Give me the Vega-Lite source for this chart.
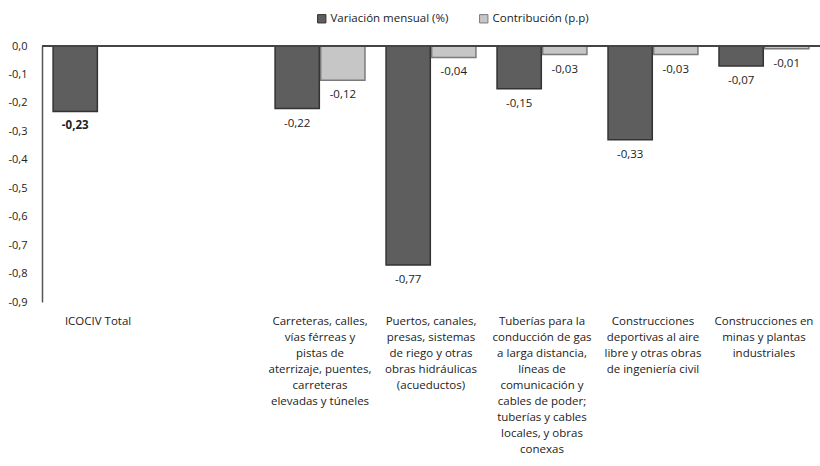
{
  "$schema": "https://vega.github.io/schema/vega-lite/v6.json",
  "autosize": {"type": "none"},
  "padding": {"left": 42, "top": 46, "right": 0, "bottom": 164},
  "width": 778,
  "height": 256,
  "background": "white",
  "config": {
    "font": "Open Sans",
    "view": {"stroke": null},
    "locale": {"number": {"decimal": ",", "thousands": ".", "grouping": [3], "currency": ["$", ""], "minus": "-"}}
  },
  "data": {"values": [
    {"categoria": "ICOCIV Total", "serie": "Variación mensual (%)", "valor": -0.23},
    {"categoria": "Carreteras, calles,|vías férreas y|pistas de|aterrizaje, puentes,|carreteras|elevadas y túneles", "serie": "Variación mensual (%)", "valor": -0.22},
    {"categoria": "Carreteras, calles,|vías férreas y|pistas de|aterrizaje, puentes,|carreteras|elevadas y túneles", "serie": "Contribución (p.p)", "valor": -0.12},
    {"categoria": "Puertos, canales,|presas, sistemas|de riego y otras|obras hidráulicas|(acueductos)", "serie": "Variación mensual (%)", "valor": -0.77},
    {"categoria": "Puertos, canales,|presas, sistemas|de riego y otras|obras hidráulicas|(acueductos)", "serie": "Contribución (p.p)", "valor": -0.04},
    {"categoria": "Tuberías para la|conducción de gas|a larga distancia,|líneas de|comunicación y|cables de poder;|tuberías y cables|locales, y obras|conexas", "serie": "Variación mensual (%)", "valor": -0.15},
    {"categoria": "Tuberías para la|conducción de gas|a larga distancia,|líneas de|comunicación y|cables de poder;|tuberías y cables|locales, y obras|conexas", "serie": "Contribución (p.p)", "valor": -0.03},
    {"categoria": "Construcciones|deportivas al aire|libre y otras obras|de ingeniería civil", "serie": "Variación mensual (%)", "valor": -0.33},
    {"categoria": "Construcciones|deportivas al aire|libre y otras obras|de ingeniería civil", "serie": "Contribución (p.p)", "valor": -0.03},
    {"categoria": "Construcciones  en|minas y plantas|industriales", "serie": "Variación mensual (%)", "valor": -0.07},
    {"categoria": "Construcciones  en|minas y plantas|industriales", "serie": "Contribución (p.p)", "valor": -0.01}
  ]},
  "encoding": {
    "x": {
      "field": "categoria", "type": "nominal",
      "scale": {
        "domain": ["ICOCIV Total", " ",
          "Carreteras, calles,|vías férreas y|pistas de|aterrizaje, puentes,|carreteras|elevadas y túneles",
          "Puertos, canales,|presas, sistemas|de riego y otras|obras hidráulicas|(acueductos)",
          "Tuberías para la|conducción de gas|a larga distancia,|líneas de|comunicación y|cables de poder;|tuberías y cables|locales, y obras|conexas",
          "Construcciones|deportivas al aire|libre y otras obras|de ingeniería civil",
          "Construcciones  en|minas y plantas|industriales"],
        "paddingInner": 0.19, "paddingOuter": 0.1
      },
      "axis": {
        "title": null, "domain": false, "ticks": false, "tickSize": 0,
        "labelAngle": 0, "labelLimit": 0, "labelPadding": 13,
        "labelExpr": "split(datum.value, '|')",
        "labelLineHeight": 16, "labelFontSize": 11.5, "labelColor": "#222",
        "labelOverlap": false
      }
    },
    "xOffset": {"field": "serie", "type": "nominal", "sort": ["Variación mensual (%)", "Contribución (p.p)"], "scale": {"paddingInner": 0.03}},
    "y": {
      "field": "valor", "type": "quantitative",
      "scale": {"domain": [-0.9, 0], "nice": false},
      "axis": {
        "title": null, "grid": false, "ticks": false, "labelOverlap": false,
        "values": [0, -0.1, -0.2, -0.3, -0.4, -0.5, -0.6, -0.7, -0.8, -0.9],
        "format": ".1f", "domainColor": "#555", "domainWidth": 1.5,
        "labelPadding": 15, "labelFontSize": 11, "labelColor": "#222"
      }
    }
  },
  "layer": [
    {
      "mark": {"type": "bar", "strokeWidth": 1.5},
      "encoding": {
        "fill": {
          "field": "serie", "type": "nominal",
          "scale": {"domain": ["Variación mensual (%)", "Contribución (p.p)"], "range": ["#5e5e5e", "#c6c6c6"]},
          "legend": {
            "title": null, "orient": "none", "direction": "horizontal",
            "legendX": 274, "legendY": -33,
            "symbolType": "square", "symbolSize": 70, "symbolStrokeWidth": 1,
            "labelFontSize": 11.5, "labelColor": "#222", "columnPadding": 28, "labelOffset": 3
          }
        },
        "stroke": {
          "field": "serie", "type": "nominal",
          "scale": {"domain": ["Variación mensual (%)", "Contribución (p.p)"], "range": ["#333333", "#7a7a7a"]},
          "legend": null
        }
      }
    },
    {
      "mark": {"type": "rule", "color": "#444", "strokeWidth": 1.5},
      "encoding": {"y": {"datum": 0}, "x": null, "xOffset": null}
    },
    {
      "transform": [{"filter": "datum.categoria !== 'ICOCIV Total'"}],
      "mark": {"type": "text", "baseline": "middle", "dy": 15, "fontSize": 11.5, "color": "#222"},
      "encoding": {"text": {"field": "valor", "type": "quantitative", "format": ".2f"}}
    },
    {
      "transform": [{"filter": "datum.categoria === 'ICOCIV Total'"}],
      "mark": {"type": "text", "baseline": "middle", "dy": 15, "fontSize": 11.5, "fontWeight": "bold", "color": "#222"},
      "encoding": {"text": {"field": "valor", "type": "quantitative", "format": ".2f"}}
    }
  ]
}
